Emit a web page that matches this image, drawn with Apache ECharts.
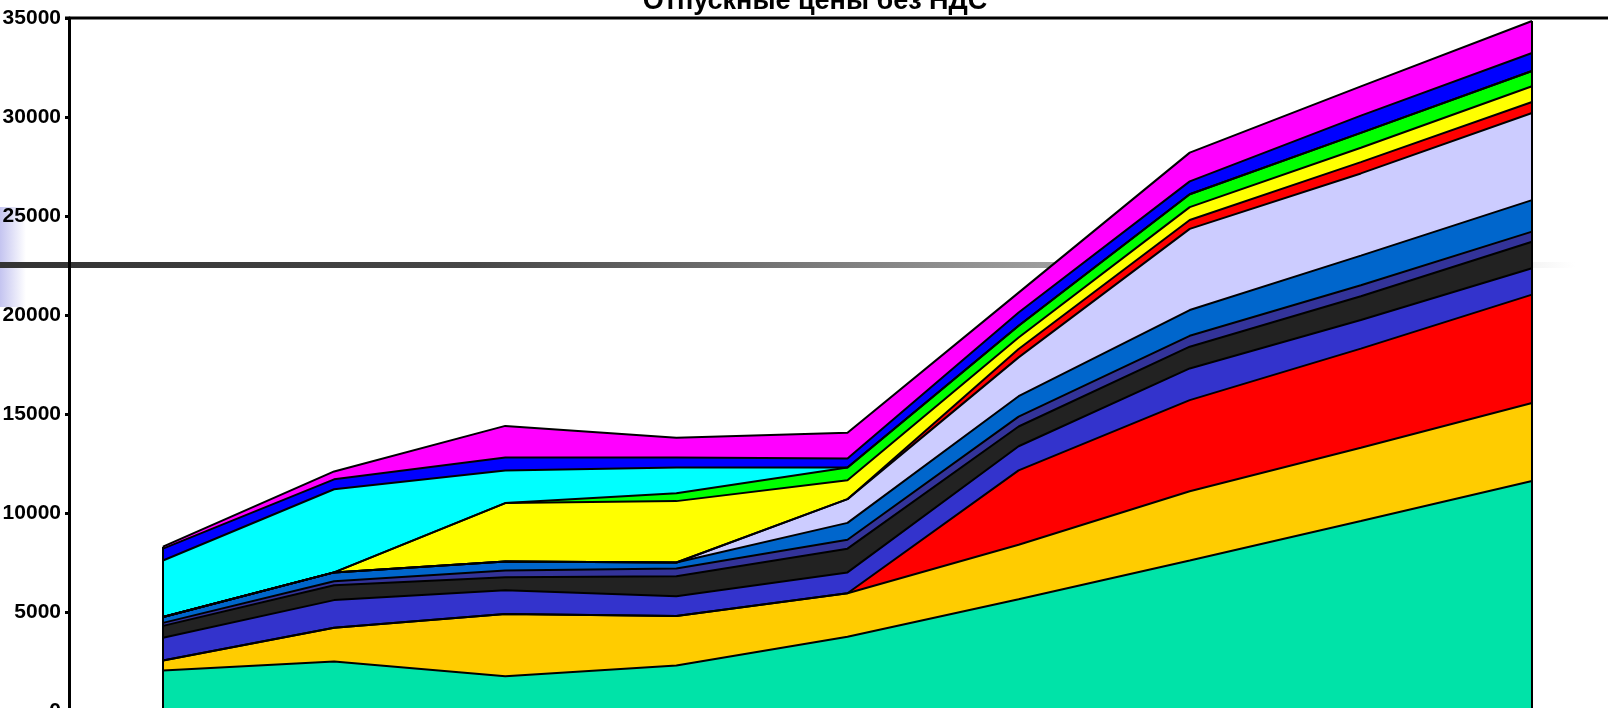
<!DOCTYPE html>
<html>
<head>
<meta charset="utf-8">
<script src="https://cdn.jsdelivr.net/npm/echarts@6/dist/echarts.min.js"></script>
<style>
  html, body { margin: 0; padding: 0; background: #fff; }
  #chart { width: 1608px; height: 708px; }
</style>
</head>
<body>
<div id="chart"></div>
<script>
// точки по оси X (подписи за нижним краем кадра)
var periods = ['1', '2', '3', '4', '5', '6', '7', '8', '9'];
var yTicks = [0, 5000, 10000, 15000, 20000, 25000, 30000, 35000];

// слои снизу вверх
var teal     = [2050, 2500, 1750, 2300, 3750, 5640, 7600, 9600, 11620];
var gold     = [500, 1700, 3150, 2500, 2200, 2760, 3500, 3700, 3940];
var redLow   = [0, 0, 0, 0, 0, 3750, 4600, 5000, 5470];
var violet   = [1150, 1400, 1200, 1000, 1050, 1220, 1600, 1450, 1330];
var dark     = [600, 750, 650, 1000, 1200, 1000, 1100, 1200, 1340];
var slate    = [150, 200, 350, 400, 450, 500, 550, 550, 510];
var midBlue  = [300, 450, 450, 300, 850, 1030, 1300, 1500, 1590];
var lavender = [0, 0, 0, 0, 1200, 1960, 4100, 4150, 4400];
var redTop   = [0, 0, 0, 0, 0, 420, 450, 570, 560];
var yellow   = [0, 0, 2950, 3100, 950, 585, 650, 730, 790];
var green    = [0, 0, 0, 400, 650, 590, 650, 750, 770];
var cyan     = [2850, 4200, 1650, 1300, 0, 0, 0, 0, 0];
var blue     = [600, 500, 650, 500, 450, 670, 650, 870, 910];
var magenta  = [100, 400, 1600, 1000, 1300, 1005, 1450, 1480, 1620];

var layers = [
  ['teal', teal, '#00E3A8'],
  ['gold', gold, '#FFCC00'],
  ['redLow', redLow, '#FF0000'],
  ['violet', violet, '#3333CC'],
  ['dark', dark, '#222222'],
  ['slate', slate, '#333399'],
  ['midBlue', midBlue, '#0066CC'],
  ['lavender', lavender, '#CCCCFF'],
  ['redTop', redTop, '#FF0000'],
  ['yellow', yellow, '#FFFF00'],
  ['green', green, '#00FF00'],
  ['cyan', cyan, '#00FFFF'],
  ['blue', blue, '#0000FF'],
  ['magenta', magenta, '#FF00FF']
];

// суммы для вертикальных краёв площади
var totals = periods.map(function (p, i) {
  var s = 0;
  layers.forEach(function (l) { s += l[1][i]; });
  return s;
});
var last = periods.length - 1;

var series = layers.map(function (l, k) {
  var s = {
    name: l[0],
    type: 'line',
    stack: 'all',
    data: l[1],
    symbol: 'none',
    lineStyle: { color: '#000', width: 2 },
    areaStyle: { color: l[2], opacity: 1 },
    emphasis: { disabled: true }
  };
  if (k === layers.length - 1) {
    s.markLine = {
      silent: true,
      symbol: 'none',
      label: { show: false },
      lineStyle: { color: '#000', width: 2, type: 'solid' },
      data: [
        [{ coord: [0, 0] }, { coord: [0, totals[0]] }],
        [{ coord: [last, 0] }, { coord: [last, totals[last]] }]
      ]
    };
  }
  return s;
});

var myChart = echarts.init(document.getElementById('chart'));

myChart.setOption({
  animation: false,
  title: {
    text: 'Отпускные цены без НДС',
    left: 810,
    top: -17,
    textAlign: 'center',
    textStyle: { fontFamily: 'Liberation Sans', fontWeight: 'bold', fontSize: 27, color: '#000' }
  },
  grid: { left: 163, right: 76, top: 18, height: 693, outerBoundsMode: 'none' },
  xAxis: {
    type: 'category',
    boundaryGap: false,
    data: periods,
    axisLine: { show: false },
    axisTick: { show: false },
    axisLabel: { show: false },
    splitLine: { show: false }
  },
  yAxis: {
    type: 'value',
    min: yTicks[0],
    max: yTicks[yTicks.length - 1],
    interval: yTicks[1] - yTicks[0],
    offset: 94,
    axisLine: { show: true, lineStyle: { color: '#000', width: 3 } },
    axisTick: { show: true, length: 4, lineStyle: { color: '#000', width: 3 } },
    axisLabel: {
      margin: 8, color: '#000', fontFamily: 'Liberation Sans', fontWeight: 'bold', fontSize: 21,
      formatter: function (v) { return String(v); }
    },
    splitLine: { show: false }
  },
  graphic: [
    {
      type: 'rect', z: -10,
      shape: { x: 0, y: 207, width: 26, height: 100 },
      style: {
        fill: new echarts.graphic.LinearGradient(0, 0, 1, 0, [
          { offset: 0, color: '#c4c4f0' },
          { offset: 1, color: '#ffffff' }
        ])
      }
    },
    {
      type: 'rect', z: -5,
      shape: { x: 0, y: 262, width: 1575, height: 6 },
      style: {
        fill: new echarts.graphic.LinearGradient(0, 0, 1, 0, [
          { offset: 0, color: '#333333' },
          { offset: 0.3, color: '#474747' },
          { offset: 0.65, color: '#9a9a9a' },
          { offset: 0.9, color: '#dadada' },
          { offset: 1, color: '#ffffff' }
        ])
      }
    },
    {
      type: 'rect', z: 100,
      shape: { x: 65, y: 16.5, width: 1543, height: 3 },
      style: { fill: '#000' }
    }
  ],
  series: series
});
</script>
</body>
</html>
